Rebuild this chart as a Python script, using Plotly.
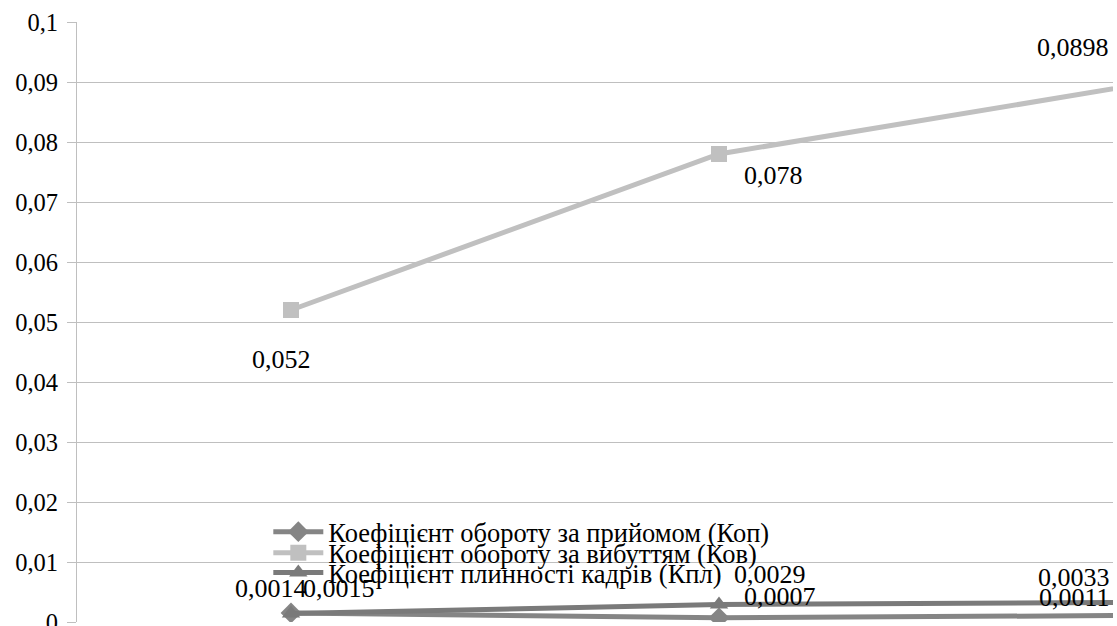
import plotly.graph_objects as go

# ---- data ----
categories = ["2021", "2022", "2023"]
series_names = [
    "Коефіцієнт обороту за прийомом (Коп)",
    "Коефіцієнт обороту за вибуттям (Ков)",
    "Коефіцієнт плинності кадрів (Кпл)",
]
kop = [0.0015, 0.0007, 0.0011]
kov = [0.052, 0.078, 0.0898]
kpl = [0.0014, 0.0029, 0.0033]
y_ticks = [0, 0.01, 0.02, 0.03, 0.04, 0.05, 0.06, 0.07, 0.08, 0.09, 0.1]
y_tick_labels = ["0", "0,01", "0,02", "0,03", "0,04", "0,05", "0,06", "0,07", "0,08", "0,09", "0,1"]

# ---- style ----
FONT = "Liberation Serif"
colors = ["#858585", "#C0C0C0", "#7A7A7A"]
symbols = ["diamond", "square", "triangle-up"]
legend_ids = ["legend", "legend2", "legend3"]
legend_y = [0.150, 0.115, 0.082]
label_shift = [
    [(48, 25), (61, 21), (-73, 18)],
    [(-10, -49), (54, -21), (-74, 36)],
    [(-20, 25), (51, 30), (-73, 25)],
]

values = [kop, kov, kpl]

fig = go.Figure()
for name, vals, col, sym, lg in zip(series_names, values, colors, symbols, legend_ids):
    fig.add_trace(go.Scatter(
        x=categories, y=vals, name=name, mode="lines+markers",
        line=dict(color=col, width=5),
        marker=dict(symbol=sym, size=16, color=col),
        legend=lg, cliponaxis=True,
    ))

annotations = []
for vals, shifts in zip(values, label_shift):
    for i, (v, (dx, dy)) in enumerate(zip(vals, shifts)):
        annotations.append(dict(
            x=i, y=v, xref="x", yref="y", text=f"{v:g}".replace(".", ","),
            showarrow=False, xshift=dx, yshift=dy,
            font=dict(family=FONT, size=26, color="black"),
        ))

layout_legends = {}
for lg, ly in zip(legend_ids, legend_y):
    layout_legends[lg] = dict(
        x=0.149, xanchor="left", y=ly, yanchor="middle",
        bgcolor="rgba(0,0,0,0)", borderwidth=0,
        font=dict(family=FONT, size=26.5, color="black"),
        itemwidth=50,
    )

fig.update_layout(
    width=1400, height=700,
    margin=dict(l=77, r=39, t=22, b=78),
    font=dict(family=FONT),
    paper_bgcolor="white", plot_bgcolor="white",
    showlegend=True,
    annotations=annotations,
    shapes=[dict(type="rect", xref="paper", yref="paper", x0=0, x1=0.7266,
                 y0=0.088, y1=0.112, fillcolor="white", line=dict(width=0),
                 layer="between")],
    xaxis=dict(type="category", range=[-0.5, 2.5], showgrid=False, showline=False,
               zeroline=False, showticklabels=True, ticklabelstandoff=20, automargin=False,
               tickfont=dict(family=FONT, size=24, color="black")),
    yaxis=dict(range=[0, 0.1], tickvals=y_ticks, ticktext=y_tick_labels, automargin=False,
               showgrid=True, gridcolor="#BFBFBF", gridwidth=1,
               showline=True, linecolor="#BFBFBF", linewidth=1,
               zeroline=False, ticks="outside", ticklen=9, tickcolor="#BFBFBF",
               ticklabelstandoff=4,
               tickfont=dict(family=FONT, size=24.5, color="black")),
    **layout_legends,
)

post = (
    "var gd=document.getElementById('{plot_id}');"
    "document.body.style.margin='0';"
    "document.documentElement.style.overflow='hidden';"
    "document.body.style.overflow='hidden';"
    "var w=gd.parentElement;w.style.width='1113px';w.style.height='626px';w.style.overflow='hidden';"
)
fig.write_html("out.html", post_script=post)
